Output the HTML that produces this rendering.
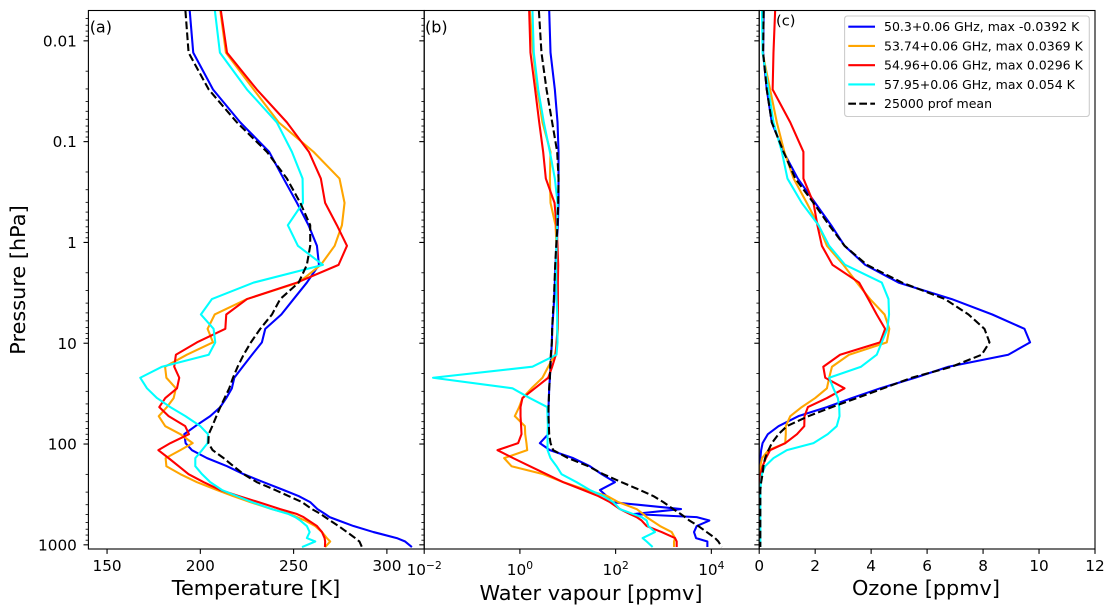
<!DOCTYPE html>
<html>
<head>
<meta charset="utf-8">
<title>Jacobian profiles</title>
<style>
html,body{margin:0;padding:0;background:#fff;width:1115px;height:614px;overflow:hidden}
svg{display:block;font-family:"DejaVu Sans","Liberation Sans",sans-serif}
text{fill:#000}
</style>
</head>
<body>
<svg id="chart" xmlns="http://www.w3.org/2000/svg" width="1115" height="614" viewBox="0 0 1115 614"></svg>
<script>
// Shared pressure levels [hPa]
const pressureLevels = [0.005,0.0131,0.0304,0.0644,0.1263,0.2324,0.4052,0.6749,1.0801,1.6691,2.5011,3.6462,5.1864,7.2,9.8,13,17.1,22,28,35,43,52.9,66.5,79.8,98,115,138,166,199,239,286,328,377,442,495,531,574,651,747,857,927,1052];

// Temperature [K]
const tempBlue = [194.3,196.2,206.8,221.4,236.9,244.6,251.8,258,262.5,263.6,257.1,250,243.4,234.8,233,227.7,222.7,218.2,216.9,213.9,210.7,205.3,197.3,191.4,192.1,195.5,203.6,214.3,223.2,233.9,244.6,252.7,258.9,262.8,266.9,269.3,274.1,282.1,292.8,305.3,309.8,313.4];
const tempOrange = [210.7,213.7,228.6,242,260.7,274.6,277.3,275.9,272,264.6,252.7,225,207.7,203.9,206.8,192.8,181.1,181.8,186.9,185.7,182.1,177.7,181.2,189.3,195.9,189.3,181.4,181.8,189.3,198.2,208.9,217.5,226.8,238.4,248.2,251.8,256.2,261.6,265.2,267.8,269.6,266.9];
const tempRed = [211,214.3,230.3,246.4,258.2,264.6,266.9,273.2,278.6,274.1,251.8,225,213.9,213.4,198.2,186.9,186,188.7,187.5,181.2,178,183,191.9,193.9,183.9,177.5,183,188.4,193.7,201.8,210.7,220.5,231.2,242.8,251.8,255.3,258,262.5,265.2,266.6,266.9,266.8];
const tempCyan = [207.8,210.5,225,241,249.1,254.8,255,246.9,252.3,265.7,228.6,206.2,200.3,207.1,208,204.5,179.5,167.8,171.4,176.8,183.9,192,200,204.1,203.9,200.9,197.3,197.3,200.9,205.3,211.6,219.6,227.7,238.4,247.3,250.9,253.6,257.1,258.6,257.1,261.6,254.5];
const tempMean = [192,193.7,204.5,219.6,235.7,246.4,253.6,258.9,258.9,257.1,252.7,242.8,238.4,232.1,227.1,223.2,220,217.5,215.5,213,210.7,208.6,206.4,204.5,204.3,206.6,212.5,217.8,223.2,230.3,240.2,247.3,254.5,259.8,264.6,266.9,269.6,274.1,278.6,283,285.3,286.6];

// Water vapour [ppmv]
const wvBlue = [4.09,4.36,5.37,6.11,6.41,6.41,6.41,6.21,5.82,5.55,5.37,5.20,4.96,4.72,4.65,4.50,4.36,4.23,4.09,4.03,3.96,3.96,3.96,3.90,2.61,4.23,13,29,50.9,96.7,47,64.7,82.4,2323,234,4943,9099,4943,4345,4786,8260,8260];
const wvOrange = [1.61,1.89,2.30,2.96,4.36,4.23,4.36,5.55,5.82,6.01,6.11,6.21,6.21,6.21,6.01,5.37,3.90,2.96,1.75,1.13,0.964,0.782,1.27,1.29,1.37,1.42,0.468,0.667,3.06,8.03,24.7,66.8,114,275,378,445,566,845,1483,1742,1660,1660];
const wvRed = [1.56,1.66,2.08,2.53,3.06,3.48,5.29,5.82,6.11,6.31,6.21,6.21,6.21,6.11,5.82,5.64,4.72,3.90,2.05,1.13,1.03,1.03,1.06,1.08,0.918,0.340,0.723,1.61,3.60,8.03,21,43.4,76,123,199,275,349,445,916,1742,1888,1888];
const wvCyan = [1.83,1.95,2.41,3.16,4.23,5.37,6.11,6.01,5.82,5.73,5.73,5.82,6.01,6.01,6.11,5.82,1.83,0.0153,0.700,1.61,3.72,3.78,3.84,3.78,3.78,3.78,4.36,5.82,7.41,15.3,29,55.1,89.3,123,234,349,445,482,664,366,445,593];
const wvMean = [2.49,2.82,3.60,4.72,6.01,6.41,6.31,6.11,5.73,5.46,5.29,5.12,4.88,4.72,4.65,4.43,4.30,4.23,4.09,4.03,3.96,3.96,4.03,4.09,4.36,4.96,10.2,26.8,55.1,133,323,612,993,1607,2286,2818,3475,5358,8000,11970,14030,16480];

// Ozone [ppmv]
const o3Blue = [0.16,0.14,0.27,0.45,0.87,1.38,2.00,2.57,3.05,3.79,4.98,6.88,8.33,9.48,9.68,8.90,6.76,5.57,4.32,3.31,2.42,1.40,0.69,0.31,0.12,0.07,0.04,0.02,0.02,0.02,0.02,0.02,0.02,0.02,0.02,0.02,0.02,0.02,0.02,0.02,0.02,0.02];
const o3Orange = [0.12,0.12,0.39,0.63,0.90,1.23,1.70,2.12,2.42,3.01,3.49,3.96,4.48,4.65,4.56,3.21,2.60,2.50,2.42,2.00,1.52,1.11,0.95,0.95,0.93,0.33,0.10,0.04,0.02,0.02,0.02,0.02,0.02,0.02,0.02,0.02,0.02,0.02,0.02,0.02,0.02,0.02];
const o3Red = [0.57,0.51,0.48,1.11,1.58,1.58,1.94,2.08,2.24,2.62,3.57,3.90,4.20,4.50,4.32,2.89,2.29,2.36,3.05,2.42,1.74,1.62,1.61,1.35,0.93,0.39,0.24,0.12,0.05,0.02,0.02,0.02,0.02,0.02,0.02,0.02,0.02,0.02,0.02,0.02,0.02,0.02];
const o3Cyan = [0.10,0.12,0.33,0.51,0.81,1.01,1.52,2.12,2.50,3.07,4.38,4.62,4.64,4.58,4.38,4.20,3.64,2.50,2.65,2.81,2.86,2.87,2.77,2.45,1.94,0.99,0.51,0.21,0.10,0.06,0.04,0.04,0.04,0.04,0.04,0.04,0.04,0.04,0.04,0.04,0.04,0.04];
const o3Mean = [0.16,0.14,0.27,0.45,0.87,1.29,1.94,2.50,3.05,3.85,5.10,6.64,7.48,8.05,8.23,7.95,6.88,5.45,4.44,3.49,2.60,1.76,0.99,0.69,0.45,0.33,0.21,0.15,0.12,0.07,0.04,0.04,0.04,0.04,0.04,0.04,0.04,0.04,0.04,0.04,0.04,0.04];

// Tick labels
const pressureTicks = [0.01,0.1,1,10,100,1000];
const pressureTickLabels = ['0.01','0.1','1','10','100','1000'];
const tempTicks = [150,200,250,300];
const wvTickExponents = [-2,0,2,4];
const o3Ticks = [0,2,4,6,8,10,12];

// Legend labels
const legendLabels = ['50.3+0.06 GHz, max -0.0392 K','53.74+0.06 GHz, max 0.0369 K','54.96+0.06 GHz, max 0.0296 K','57.95+0.06 GHz, max 0.054 K','25000 prof mean'];
const seriesColors = ['#0000ff','#ffa500','#ff0000','#00ffff','#000000'];

const svg = document.getElementById('chart');
const NS = 'http://www.w3.org/2000/svg';
const TOP = 10.5, BOTTOM = 549;
const Y_MIN_LOG = Math.log10(0.005), Y_MAX_LOG = Math.log10(1100);

function yScale(p){ return TOP + (Math.log10(p) - Y_MIN_LOG) / (Y_MAX_LOG - Y_MIN_LOG) * (BOTTOM - TOP); }
const panelA = {l:88.4, r:424.2};
const panelB = {l:424.2, r:759.2};
const panelC = {l:759.2, r:1095};
function xTemp(v){ return panelA.l + (v - 140) / 180 * (panelA.r - panelA.l); }
function xWv(v){ return panelB.l + (Math.log10(v) + 2) / 7 * (panelB.r - panelB.l); }
function xO3(v){ return panelC.l + v / 12 * (panelC.r - panelC.l); }

function mk(tag, attrs, parent){
  const el = document.createElementNS(NS, tag);
  for (const k in attrs) el.setAttribute(k, attrs[k]);
  (parent || svg).appendChild(el);
  return el;
}
function group(name){
  const g = mk('g', {});
  
  
  return g;
}
function label(parent, name, str, x, y, size, anchor, extra){
  const t = mk('text', Object.assign({x:x, y:y, 'font-size':size, 'text-anchor':anchor}, extra || {}), parent);
  
  
  t.textContent = str;
  return t;
}
function hairline(parent, x1, y1, x2, y2, w){
  return mk('line', {x1:x1, y1:y1, x2:x2, y2:y2, stroke:'#000', 'stroke-width':w}, parent);
}

function drawSeries(parent, clipId, xFn, values, color, name, dashed){
  const pts = values.map((v, i) => xFn(v).toFixed(2) + ',' + yScale(pressureLevels[i]).toFixed(2));
  const line = mk('polyline', {points:pts.join(' '), fill:'none', stroke:color, 'stroke-width':2.08, 'stroke-linejoin':'round', 'clip-path':'url(#' + clipId + ')'}, parent);
  if (dashed) line.setAttribute('stroke-dasharray', '7.7 3.3');
  
  
}

function yAxis(parent, x, withLabels){
  const minors = [2,3,4,5,6,7,8,9];
  for (let e = -3; e <= 3; e++) {
    minors.forEach(m => {
      const p = m * Math.pow(10, e);
      if (p > 0.005 && p < 1100) hairline(parent, x - 2.8, yScale(p), x, yScale(p), 0.83);
    });
  }
  pressureTicks.forEach((p, i) => {
    hairline(parent, x - 4.9, yScale(p), x, yScale(p), 1.1);
    if (withLabels) label(parent, 'y-tick-label', pressureTickLabels[i], x - 11.5, yScale(p) + 5.6, 15.28, 'end');
  });
}
function frame(parent, p){
  mk('rect', {x:p.l, y:TOP, width:p.r - p.l, height:BOTTOM - TOP, fill:'none', stroke:'#000', 'stroke-width':1.1}, parent);
}
function clip(id, p){
  const c = mk('clipPath', {id:id});
  mk('rect', {x:p.l, y:TOP, width:p.r - p.l, height:BOTTOM - TOP}, c);
}

clip('clipA', panelA); clip('clipB', panelB); clip('clipC', panelC);

/* Panel (a) */
const gA = group('temperature-panel');
drawSeries(gA, 'clipA', xTemp, tempBlue, seriesColors[0], 'temperature-line-50-3-ghz');
drawSeries(gA, 'clipA', xTemp, tempOrange, seriesColors[1], 'temperature-line-53-74-ghz');
drawSeries(gA, 'clipA', xTemp, tempRed, seriesColors[2], 'temperature-line-54-96-ghz');
drawSeries(gA, 'clipA', xTemp, tempCyan, seriesColors[3], 'temperature-line-57-95-ghz');
drawSeries(gA, 'clipA', xTemp, tempMean, seriesColors[4], 'temperature-line-mean', true);
frame(gA, panelA);
yAxis(gA, panelA.l, true);
tempTicks.forEach(v => {
  hairline(gA, xTemp(v), BOTTOM, xTemp(v), BOTTOM + 4.9, 1.1);
  label(gA, 'temperature-tick-label', String(v), xTemp(v), 571, 15.28, 'middle');
});
label(gA, 'panel-a-label', '(a)', 89.7, 32.5, 15.97, 'start');
label(gA, 'temperature-axis-title', 'Temperature [K]', 256, 595, 20.83, 'middle');
label(gA, 'pressure-axis-title', 'Pressure [hPa]', 0, 0, 20.83, 'middle', {transform:'translate(25 280) rotate(-90)'});

/* Panel (b) */
const gB = group('water-vapour-panel');
drawSeries(gB, 'clipB', xWv, wvBlue, seriesColors[0], 'water-vapour-line-50-3-ghz');
drawSeries(gB, 'clipB', xWv, wvOrange, seriesColors[1], 'water-vapour-line-53-74-ghz');
drawSeries(gB, 'clipB', xWv, wvRed, seriesColors[2], 'water-vapour-line-54-96-ghz');
drawSeries(gB, 'clipB', xWv, wvCyan, seriesColors[3], 'water-vapour-line-57-95-ghz');
drawSeries(gB, 'clipB', xWv, wvMean, seriesColors[4], 'water-vapour-line-mean', true);
frame(gB, panelB);
yAxis(gB, panelB.l, false);
wvTickExponents.forEach(e => {
  const x = xWv(Math.pow(10, e));
  hairline(gB, x, BOTTOM, x, BOTTOM + 4.9, 1.1);
  const t = label(gB, 'water-vapour-tick-label', '10', x, 575, 15.28, 'middle');
  const s = mk('tspan', {dy:-6, 'font-size':10.7}, t);
  s.textContent = String(e).replace('-', '\u2212');
});
label(gB, 'panel-b-label', '(b)', 425, 32.5, 15.97, 'start');
label(gB, 'water-vapour-axis-title', 'Water vapour [ppmv]', 591, 600, 20.83, 'middle');

/* Panel (c) */
const gC = group('ozone-panel');
drawSeries(gC, 'clipC', xO3, o3Blue, seriesColors[0], 'ozone-line-50-3-ghz');
drawSeries(gC, 'clipC', xO3, o3Orange, seriesColors[1], 'ozone-line-53-74-ghz');
drawSeries(gC, 'clipC', xO3, o3Red, seriesColors[2], 'ozone-line-54-96-ghz');
drawSeries(gC, 'clipC', xO3, o3Cyan, seriesColors[3], 'ozone-line-57-95-ghz');
drawSeries(gC, 'clipC', xO3, o3Mean, seriesColors[4], 'ozone-line-mean', true);
frame(gC, panelC);
yAxis(gC, panelC.l, false);
o3Ticks.forEach(v => {
  hairline(gC, xO3(v), BOTTOM, xO3(v), BOTTOM + 4.9, 1.1);
  label(gC, 'ozone-tick-label', String(v), xO3(v), 571, 15.28, 'middle');
});
label(gC, 'panel-c-label', '(c)', 776, 25.5, 14.6, 'start');
label(gC, 'ozone-axis-title', 'Ozone [ppmv]', 926, 595, 20.83, 'middle');

/* Legend */
const gL = group('legend');
mk('rect', {x:844.6, y:16, width:244.7, height:100.5, rx:2.8, ry:2.8, fill:'#fff', 'fill-opacity':0.8, stroke:'#cccccc', 'stroke-width':1.1}, gL);
legendLabels.forEach((txt, i) => {
  const yy = 26.7 + i * 19.25;
  const h = mk('line', {x1:848.3, y1:yy, x2:875, y2:yy, stroke:seriesColors[i], 'stroke-width':2.08}, gL);
  if (i === 4) h.setAttribute('stroke-dasharray', '7.7 3.3');
  
  
  label(gL, 'legend-entry', txt, 884, yy + 4.4, 12.5, 'start');
});
</script>
</body>
</html>
